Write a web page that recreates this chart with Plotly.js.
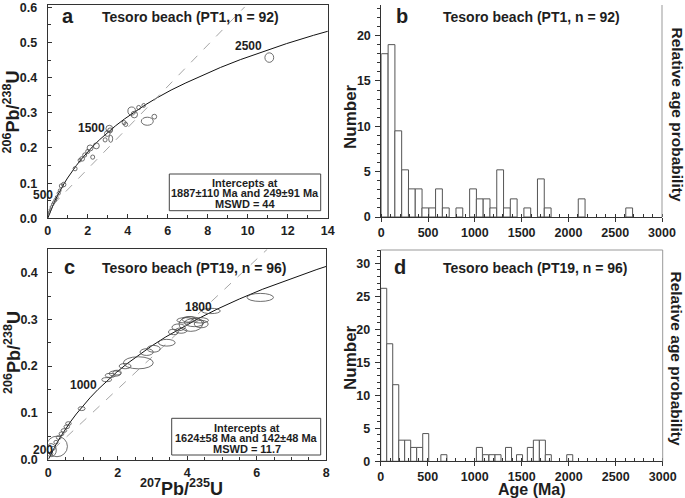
<!DOCTYPE html>
<html><head><meta charset="utf-8">
<script src="https://cdn.plot.ly/plotly-3.0.1.min.js"></script>
<style>html,body{margin:0;padding:0;background:#fff}#chart{width:685px;height:498px}</style>
</head><body><div id="chart"></div>
<script>
// ---------- DATA ----------
// Concordia curve points (207Pb/235U, 206Pb/238U)
const concordiaX = [0, 0.1035, 0.2177, 0.3438, 0.4828, 0.6362, 0.8056, 0.9924, 1.1987, 1.4263, 1.6774, 1.9546, 2.2604, 2.5979, 2.9704, 3.3814, 3.835, 4.3355, 4.8879, 5.4975, 6.1702, 6.910, 7.729, 8.633, 9.630, 10.730, 11.945, 13.284, 14.762];
const concordiaY = [0, 0.01563, 0.03151, 0.04763, 0.06399, 0.08059, 0.09743, 0.1145, 0.1319, 0.1497, 0.1678, 0.1861, 0.2048, 0.2237, 0.2429, 0.2625, 0.2823, 0.3024, 0.3229, 0.3436, 0.3646, 0.3851, 0.4068, 0.4288, 0.4511, 0.4738, 0.4968, 0.5202, 0.5440];

// Discordia lines (end points)
const discordiaAX = [0.28, 9.85];
const discordiaAY = [0.0394, 0.601];
const discordiaCX = [0.15, 6.30];
const discordiaCY = [0.0223, 0.45];

// Panel a error ellipses: centre x, centre y, half-width, half-height
const ellA_x  = [11.08, 4.2, 4.33, 4.98, 5.33, 4.55, 4.8, 3.82, 3.9, 3.08, 3.12, 2.98, 3.15, 2.87, 2.43, 2.12, 2.0, 2.25, 1.72, 1.85, 1.6, 1.37, 0.8, 0.68, 0.6, 0.55, 0.45, 0.38, 0.3, 0.25, 0.18, 0.12, 0.08, 0.05];
const ellA_y  = [0.457, 0.305, 0.295, 0.276, 0.289, 0.315, 0.321, 0.272, 0.267, 0.255, 0.250, 0.241, 0.226, 0.223, 0.206, 0.200, 0.190, 0.174, 0.169, 0.180, 0.165, 0.141, 0.096, 0.092, 0.079, 0.071, 0.060, 0.052, 0.045, 0.040, 0.032, 0.024, 0.017, 0.012];
const ellA_rx = [0.22, 0.19, 0.16, 0.30, 0.12, 0.10, 0.09, 0.10, 0.10, 0.17, 0.12, 0.14, 0.10, 0.10, 0.15, 0.15, 0.10, 0.10, 0.12, 0.10, 0.08, 0.10, 0.11, 0.10, 0.07, 0.08, 0.07, 0.07, 0.06, 0.06, 0.06, 0.05, 0.05, 0.04];
const ellA_ry = [0.0135, 0.0115, 0.0095, 0.0115, 0.0068, 0.006, 0.0055, 0.006, 0.006, 0.0095, 0.007, 0.008, 0.010, 0.006, 0.0085, 0.0085, 0.006, 0.006, 0.0065, 0.006, 0.005, 0.006, 0.0065, 0.006, 0.0045, 0.005, 0.0045, 0.0045, 0.004, 0.004, 0.004, 0.0035, 0.0035, 0.003];

// Panel c error ellipses
const ellC_x  = [6.1, 4.68, 4.1, 3.94, 4.37, 4.2, 3.75, 3.6, 3.82, 4.05, 4.4, 3.41, 3.03, 2.83, 2.59, 2.21, 1.98, 1.92, 1.78, 1.68, 0.96, 0.58, 0.53, 0.45, 0.38, 0.30, 0.22, 0.14, 0.08, 0.25, 0.08];
const ellC_y  = [0.347, 0.318, 0.290, 0.298, 0.298, 0.293, 0.283, 0.273, 0.276, 0.300, 0.290, 0.250, 0.237, 0.230, 0.207, 0.200, 0.186, 0.184, 0.180, 0.171, 0.109, 0.077, 0.070, 0.062, 0.055, 0.047, 0.037, 0.024, 0.013, 0.028, 0.020];
const ellC_rx = [0.38, 0.27, 0.34, 0.24, 0.24, 0.28, 0.19, 0.14, 0.17, 0.20, 0.20, 0.24, 0.19, 0.19, 0.43, 0.17, 0.12, 0.17, 0.14, 0.14, 0.10, 0.08, 0.08, 0.08, 0.07, 0.07, 0.06, 0.06, 0.05, 0.30, 0.15];
const ellC_ry = [0.0086, 0.0057, 0.0157, 0.0057, 0.0057, 0.0086, 0.0072, 0.0057, 0.0057, 0.006, 0.008, 0.0072, 0.0072, 0.0072, 0.0129, 0.0057, 0.005, 0.0057, 0.0043, 0.0043, 0.0043, 0.004, 0.004, 0.004, 0.004, 0.004, 0.004, 0.004, 0.004, 0.022, 0.014];

// Age labels on concordia
const ageLabelsA = ['500', '1500', '2500'];
const ageLabelsC = ['200', '1000', '1800'];

// Histogram b (PT1): bin left edge (Ma), bar height
const binWidthB = 72.6;
const binLeftB = [0, 73, 145, 218, 290, 363, 435, 508, 580, 653, 798, 944, 1016, 1089, 1161, 1234, 1306, 1379, 1524, 1669, 1742, 2105, 2613];
const countB   = [18, 19, 9.5, 5.2, 3.1, 3.1, 1, 1, 3.1, 1, 1, 3.1, 2, 2, 1, 5.2, 1, 2, 1, 4.2, 1, 2, 1];

// Histogram d (PT19)
const binWidthD = 64;
const binLeftD = [0, 64, 128, 192, 255, 319, 383, 447, 640, 1018, 1085, 1152, 1216, 1328, 1445, 1560, 1624, 1688, 1751, 1979];
const countD   = [26.2, 17.8, 11.6, 3.2, 3.2, 2.1, 2.1, 4.2, 1, 2.1, 1, 1, 1, 2.1, 1, 2.1, 3.2, 3.2, 1, 1];

const titleB = 'Tesoro beach (PT1, n = 92)';
const titleD = 'Tesoro beach (PT19, n = 96)';
const interceptsA = ['Intercepts at', '1887\u00b1110 Ma and 249\u00b191 Ma', 'MSWD = 44'];
const interceptsC = ['Intercepts at', '1624\u00b158 Ma and 142\u00b148 Ma', 'MSWD = 11.7'];

// ---------- BUILD ----------
const W = 685, H = 498;
const FONT = 'Liberation Sans, Arial, Helvetica, sans-serif';
const TXT = '#1e1e1e';
const px = v => v / W;
const py = v => 1 - v / H;

function ann(text, x, y, size, extra) {
  return Object.assign({
    text: text, xref: 'paper', yref: 'paper', x: px(x), y: py(y),
    xanchor: 'center', yanchor: 'middle', showarrow: false,
    font: {family: FONT, size: size, color: TXT, weight: 'bold'}
  }, extra || {});
}

function ellipses(xs, ys, rxs, rys, xr, yr) {
  return xs.map((cx, i) => ({
    type: 'circle', xref: xr, yref: yr,
    x0: cx - rxs[i], x1: cx + rxs[i], y0: ys[i] - rys[i], y1: ys[i] + rys[i],
    line: {color: '#4a4a4a', width: 0.8}, fillcolor: 'rgba(0,0,0,0)'
  }));
}

function base() {
  return {
    showgrid: false, zeroline: false, showline: true, linecolor: '#333', linewidth: 1,
    tickcolor: '#333', fixedrange: true,
    tickfont: {family: FONT, size: 12.5, color: TXT, weight: 'bold'}
  };
}

const traces = [
  {x: concordiaX, y: concordiaY, xaxis: 'x', yaxis: 'y', mode: 'lines', line: {color: '#111', width: 1}, hoverinfo: 'skip'},
  {x: discordiaAX, y: discordiaAY, xaxis: 'x', yaxis: 'y', mode: 'lines', line: {color: '#a5a5a5', width: 1, dash: 'dash'}, hoverinfo: 'skip'},
  {x: concordiaX, y: concordiaY, xaxis: 'x3', yaxis: 'y3', mode: 'lines', line: {color: '#111', width: 1}, hoverinfo: 'skip'},
  {x: discordiaCX, y: discordiaCY, xaxis: 'x3', yaxis: 'y3', mode: 'lines', line: {color: '#a5a5a5', width: 1, dash: 'dash'}, hoverinfo: 'skip'},
  {type: 'bar', x: binLeftB.map(v => v + binWidthB / 2), y: countB, width: binWidthB,
   xaxis: 'x2', yaxis: 'y2', marker: {color: '#fff', line: {color: '#555', width: 1}}, hoverinfo: 'skip'},
  {type: 'bar', x: binLeftD.map(v => v + binWidthD / 2), y: countD, width: binWidthD,
   xaxis: 'x4', yaxis: 'y4', marker: {color: '#fff', line: {color: '#555', width: 1}}, hoverinfo: 'skip'}
];

const shapes = []
  .concat(ellipses(ellA_x, ellA_y, ellA_rx, ellA_ry, 'x', 'y'))
  .concat(ellipses(ellC_x, ellC_y, ellC_rx, ellC_ry, 'x3', 'y3'))
  .concat([
    {type: 'rect', xref: 'paper', yref: 'paper', x0: px(169.3), x1: px(320.7), y0: py(210.7), y1: py(174), line: {color: '#444', width: 1}, fillcolor: '#fff'},
    {type: 'rect', xref: 'paper', yref: 'paper', x0: px(171.7), x1: px(320.7), y0: py(455), y1: py(418.3), line: {color: '#444', width: 1}, fillcolor: '#fff'},
    {type: 'line', xref: 'paper', yref: 'paper', x0: px(662), x1: px(662), y0: py(217), y1: py(5), line: {color: '#999', width: 1}},
    {type: 'line', xref: 'paper', yref: 'paper', x0: px(662.7), x1: px(662.7), y0: py(461.3), y1: py(250), line: {color: '#999', width: 1}},
    {type: 'line', xref: 'paper', yref: 'paper', x0: px(380.7), x1: px(662.7), y0: py(250), y1: py(250), line: {color: '#999', width: 1}}
  ]);

const annotations = [
  ann('a', 68, 16, 20), ann(titleB, 190, 17, 14),
  ann('b', 402, 16, 20), ann(titleB, 531, 17, 14),
  ann('c', 69, 267, 20), ann(titleD, 194, 268, 14),
  ann('d', 400, 267, 20), ann(titleD, 535, 268, 14),
  ann(ageLabelsA[0], 42.7, 195, 12), ann(ageLabelsA[1], 91.7, 128.3, 12), ann(ageLabelsA[2], 248.3, 46, 12),
  ann(ageLabelsC[0], 43.3, 450, 12), ann(ageLabelsC[1], 83.3, 385, 12), ann(ageLabelsC[2], 198.3, 306.7, 12),
  ann(interceptsA[0], 245, 182.7, 11), ann(interceptsA[1], 245, 193.3, 11), ann(interceptsA[2], 245, 203.6, 11),
  ann(interceptsC[0], 246.5, 428.3, 11), ann(interceptsC[1], 246.5, 438.3, 11), ann(interceptsC[2], 246.5, 448.5, 11),
  ann('<sup>206</sup>Pb/<sup>238</sup>U', 12, 112.5, 18, {textangle: -90}),
  ann('<sup>206</sup>Pb/<sup>238</sup>U', 12, 353, 18, {textangle: -90}),
  ann('<sup>207</sup>Pb/<sup>235</sup>U', 181.7, 487, 18),
  ann('Number', 350, 117, 17, {textangle: -90}),
  ann('Number', 350, 358, 17, {textangle: -90}),
  ann('Age (Ma)', 531.7, 489, 16),
  ann('Relative age probability', 676.5, 114, 15.5, {textangle: 90}),
  ann('Relative age probability', 676.5, 358, 15.5, {textangle: 90})
];

const layout = {
  width: W, height: H, margin: {l: 0, r: 0, t: 0, b: 0},
  paper_bgcolor: '#fff', plot_bgcolor: 'rgba(0,0,0,0)', showlegend: false,
  xaxis: Object.assign(base(), {domain: [px(47.7), px(327.7)], range: [0, 14], dtick: 2, tick0: 0, ticks: 'inside', ticklen: 4,
    minor: {dtick: 1, ticks: 'inside', ticklen: 3, tickcolor: '#333'}, mirror: true, anchor: 'y', ticklabelstandoff: 1}),
  yaxis: Object.assign(base(), {domain: [py(218.3), py(5)], range: [0, 0.6065], dtick: 0.1, tick0: 0, tickformat: '.1f', ticks: 'inside', ticklen: 4,
    minor: {dtick: 0.05, ticks: 'inside', ticklen: 3, tickcolor: '#333'}, mirror: true, anchor: 'x', ticklabelstandoff: 7}),
  xaxis2: Object.assign(base(), {domain: [px(381.3), px(662)], range: [0, 3000], dtick: 500, tick0: 0, ticks: 'outside', ticklen: 4,
    minor: {dtick: 100, ticks: 'inside', ticklen: 3, tickcolor: '#333'}, anchor: 'y2', ticklabelstandoff: 0}),
  yaxis2: Object.assign(base(), {domain: [py(217), py(5)], range: [0, 23.37], dtick: 5, tick0: 0, ticks: 'outside', ticklen: 5,
    minor: {dtick: 1, ticks: 'outside', ticklen: 3, tickcolor: '#333'}, anchor: 'x2', ticklabelstandoff: 2}),
  xaxis3: Object.assign(base(), {domain: [px(48.3), px(326.3)], range: [0, 8], dtick: 2, tick0: 0, ticks: 'inside', ticklen: 4,
    minor: {dtick: 0.5, ticks: 'inside', ticklen: 3, tickcolor: '#333'}, mirror: true, anchor: 'y3', ticklabelstandoff: 1}),
  yaxis3: Object.assign(base(), {domain: [py(459.5), py(249.3)], range: [0, 0.45], dtick: 0.1, tick0: 0, tickformat: '.1f', ticks: 'inside', ticklen: 4,
    minor: {dtick: 0.05, ticks: 'inside', ticklen: 3, tickcolor: '#333'}, mirror: true, anchor: 'x3', ticklabelstandoff: 7}),
  xaxis4: Object.assign(base(), {domain: [px(380.7), px(662.7)], range: [0, 3000], dtick: 500, tick0: 0, ticks: 'outside', ticklen: 4,
    minor: {dtick: 100, ticks: 'inside', ticklen: 3, tickcolor: '#333'}, anchor: 'y4', ticklabelstandoff: 0}),
  yaxis4: Object.assign(base(), {domain: [py(461.3), py(250)], range: [0, 32], dtick: 5, tick0: 0, ticks: 'outside', ticklen: 5,
    minor: {dtick: 1, ticks: 'outside', ticklen: 3, tickcolor: '#333'}, anchor: 'x4', ticklabelstandoff: 2}),
  shapes: shapes,
  annotations: annotations
};

Plotly.newPlot('chart', traces, layout, {staticPlot: true, displayModeBar: false});
</script></body></html>
